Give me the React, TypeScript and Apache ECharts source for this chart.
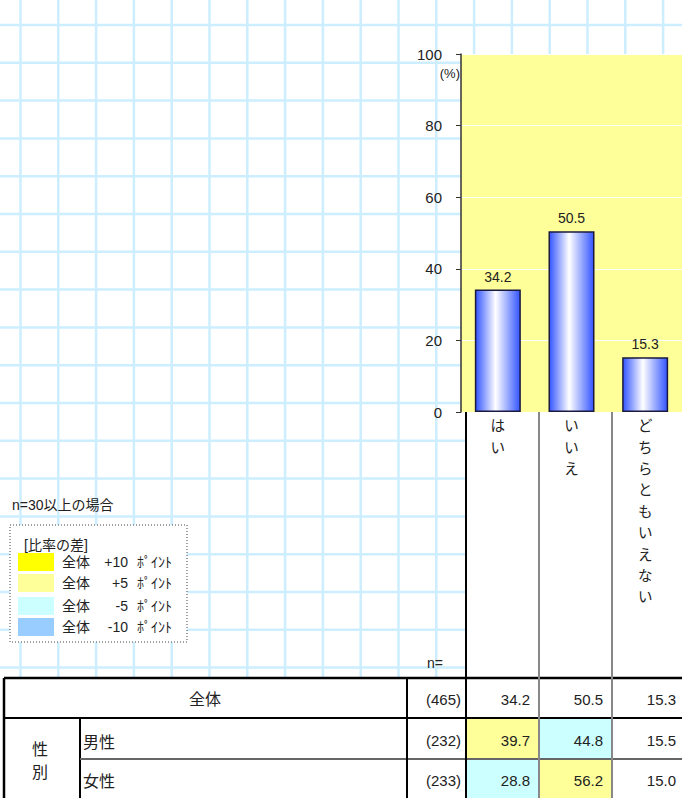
import React, { useEffect, useRef } from "react";
import * as echarts from "echarts";

const categories = ["はい", "いいえ", "どちらともいえない"];
const overallValues = [34.2, 50.5, 15.3];
const yMin = 0;
const yMax = 100;
const yInterval = 20;

const tableRowLabels = ["全体", "男性", "女性"];
const groupLabel = "性別";
const tableN = [465, 232, 233];
const maleValues = [39.7, 44.8, 15.5];
const femaleValues = [28.8, 56.2, 15.0];

const legendTitle = "n=30以上の場合";
const legendHeader = "[比率の差]";
const legendNums = ["+10", "+5", "-5", "-10"];
const legendColors = ["#ffff00", "#ffff99", "#ccffff", "#99ccff"];

const FONT = "'Liberation Sans', 'Noto Sans CJK JP', sans-serif";
const JFONT = "'Noto Sans CJK JP', 'Liberation Sans', sans-serif";

function txt(text: string, x: number, y: number, size: number, align = "left", font = FONT, z = 6) {
  return {
    type: "text",
    z,
    style: {
      text,
      x,
      y,
      fontSize: size,
      fontFamily: font,
      fill: "#222",
      align,
      verticalAlign: "middle",
      textAlign: align,
      textVerticalAlign: "middle",
    },
  };
}

function ln(x1: number, y1: number, x2: number, y2: number, color: string, w: number, z = 6, dash?: number[]) {
  return {
    type: "line",
    z,
    shape: { x1, y1, x2, y2 },
    style: { stroke: color, lineWidth: w, lineDash: dash },
  };
}

function diffColor(v: number, base: number) {
  const d = v - base;
  if (d >= 10) return legendColors[0];
  if (d >= 5) return legendColors[1];
  if (d <= -10) return legendColors[3];
  if (d <= -5) return legendColors[2];
  return null;
}

export default function App() {
  const ref = useRef<HTMLDivElement>(null);
  useEffect(() => {
    if (!ref.current) return;
    const chart = echarts.init(ref.current, null, { renderer: "svg" });
    const g: any[] = [];

    // background grid paper
    for (let k = 0; k < 18; k++) {
      const x = 20.5 + 37.8 * k;
      g.push(ln(x, 0, x, 678, "#cceeff", 2.5, -5));
    }
    for (let k = 0; k < 18; k++) {
      const y = 25 + 37.8 * k;
      g.push(ln(0, y, 682, y, "#cceeff", 2.5, -5));
    }
    // white area below plot
    g.push({ type: "rect", z: -1, shape: { x: 466, y: 412, width: 220, height: 270 }, style: { fill: "#fff" } });

    // legend
    g.push(txt(legendTitle, 12, 505, 14));
    g.push({
      type: "rect",
      z: 5,
      shape: { x: 10, y: 525, width: 177, height: 117 },
      style: { fill: "#fff", stroke: "#444", lineWidth: 1, lineDash: [1, 2] },
    });
    g.push(txt(legendHeader, 24, 545, 14));
    const swY = [553, 574, 597, 618];
    legendNums.forEach((n, i) => {
      g.push({ type: "rect", z: 6, shape: { x: 18, y: swY[i], width: 36, height: 18 }, style: { fill: legendColors[i] } });
      g.push(txt("全体", 62, swY[i] + 9, 14));
      g.push(txt(n, 128, swY[i] + 9, 14, "right"));
      g.push(txt("ﾎﾟｲﾝﾄ", 137, swY[i] + 9, 14));
    });

    g.push(txt("(%)", 460, 73, 13, "right"));
    g.push(txt("n=", 427, 663, 14));

    // table
    g.push({ type: "rect", z: 5, shape: { x: 4, y: 678, width: 682, height: 122 }, style: { fill: "#fff" } });
    const colL = [466, 539, 612];
    const colW = 73;
    const rowTop = [678, 718, 759];
    const rowH = [40, 41, 40];
    [maleValues, femaleValues].forEach((vals, r) => {
      vals.forEach((v, c) => {
        const col = diffColor(v, overallValues[c]);
        if (col) {
          g.push({
            type: "rect",
            z: 5,
            shape: { x: colL[c], y: rowTop[r + 1], width: colW, height: rowH[r + 1] },
            style: { fill: col },
          });
        }
      });
    });
    // lines
    g.push(ln(4, 678, 686, 678, "#000", 2.5));
    g.push(ln(4, 678, 4, 800, "#000", 2.5));
    g.push(ln(4, 718, 686, 718, "#000", 2));
    g.push(ln(80, 718, 80, 800, "#000", 2));
    g.push(ln(80, 759, 686, 759, "#666", 2));
    g.push(ln(407, 678, 407, 800, "#000", 2));
    g.push(ln(466, 412, 466, 800, "#000", 2, 6));
    g.push(ln(539, 412, 539, 800, "#888", 2, 6));
    g.push(ln(612, 412, 612, 800, "#888", 2, 6));

    // table text
    g.push(txt(tableRowLabels[0], 205, 698, 16, "center", JFONT));
    g.push(txt(groupLabel[0], 40, 748, 16, "center", JFONT));
    g.push(txt(groupLabel[1], 40, 771, 16, "center", JFONT));
    g.push(txt(tableRowLabels[1], 83, 741, 16, "left", JFONT));
    g.push(txt(tableRowLabels[2], 83, 780, 16, "left", JFONT));
    const rowsVals = [overallValues, maleValues, femaleValues];
    const rowY = [699, 740, 780];
    tableN.forEach((n, r) => {
      g.push(txt("(" + n + ")", 461, rowY[r], 15, "right"));
      rowsVals[r].forEach((v, c) => {
        g.push(txt(v.toFixed(1), colL[c] + 64, rowY[r], 15, "right"));
      });
    });

    chart.setOption({
      animation: false,
      grid: {
        left: 461,
        top: 54,
        width: 224,
        height: 358,
        show: true,
        backgroundColor: "#ffff99",
        borderWidth: 0,
      },
      xAxis: {
        type: "category",
        data: categories,
        axisLine: { show: false },
        axisTick: { show: false },
        axisLabel: {
          interval: 0,
          margin: 2,
          fontSize: 14.5,
          lineHeight: 21.4,
          color: "#222",
          fontFamily: JFONT,
          verticalAlign: "top",
          formatter: (v: string) => v.split("").join("\n"),
        },
      },
      yAxis: {
        type: "value",
        min: yMin,
        max: yMax,
        interval: yInterval,
        axisLine: { show: true, lineStyle: { color: "#333", width: 1.5 } },
        axisTick: { show: true, length: 5, lineStyle: { color: "#333", width: 1 } },
        axisLabel: { fontSize: 15, color: "#222", margin: 19, fontFamily: FONT },
        splitLine: { show: true, lineStyle: { color: "#ffffff", width: 1 } },
      },
      series: [
        {
          type: "bar",
          data: overallValues,
          barWidth: 46,
          itemStyle: {
            color: new echarts.graphic.LinearGradient(0, 0, 1, 0, [
              { offset: 0, color: "#3355ff" },
              { offset: 0.45, color: "#ffffff" },
              { offset: 1, color: "#3355ff" },
            ]),
            borderColor: "#1a1a40",
            borderWidth: 1.5,
          },
          label: {
            show: true,
            position: "top",
            distance: 6,
            fontSize: 14,
            color: "#222",
            fontFamily: FONT,
            formatter: (p: any) => Number(p.value).toFixed(1),
          },
        },
      ],
      graphic: { elements: g },
    });
    return () => chart.dispose();
  }, []);
  return (
    <div
      ref={ref}
      style={{ position: "absolute", left: 0, top: 0, width: 682, height: 798, background: "#fff" }}
    />
  );
}
